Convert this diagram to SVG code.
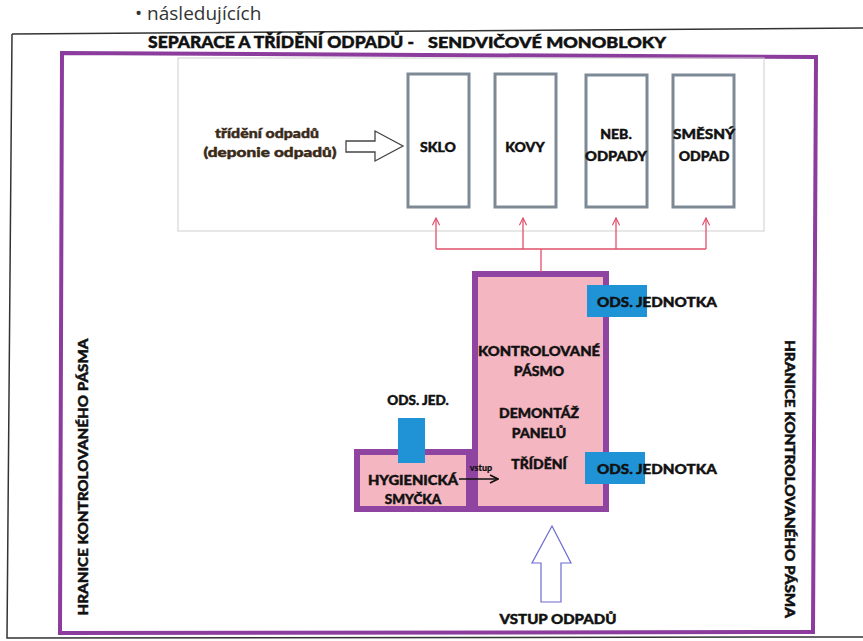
<svg xmlns="http://www.w3.org/2000/svg" width="863" height="641" viewBox="0 0 863 641">
<defs>
<style>
.t{font-family:Lato,"Open Sans","DejaVu Sans",sans-serif;font-weight:900;fill:#111;stroke:#111;stroke-width:0.45;}
.bin{fill:#fff;stroke:#7d8a96;stroke-width:3;}
.pink{fill:#f4b6c1;stroke:#8e44a0;stroke-width:6;}
.blue{fill:#1f93d6;}
.red{stroke:#e0506a;stroke-width:1.3;fill:none;}
</style>
<marker id="ra" viewBox="0 0 10 10" refX="9" refY="5" markerWidth="9" markerHeight="9" orient="auto" markerUnits="userSpaceOnUse">
<path d="M1,1 L9,5 L1,9" fill="none" stroke="#e0506a" stroke-width="1.3"/>
</marker>
<marker id="ba" viewBox="0 0 10 10" refX="9" refY="5" markerWidth="10" markerHeight="12" orient="auto" markerUnits="userSpaceOnUse">
<path d="M1,1 L9,5 L1,9" fill="none" stroke="#111" stroke-width="1.6"/>
</marker>
</defs>
<rect width="863" height="641" fill="#fff"/>
<text x="135" y="20" style="font-family:'Open Sans',sans-serif;font-size:19px;fill:#333">• následujících</text>
<g id="outer-frame">
<path d="M12,34 L863,28" stroke="#333" stroke-width="1.5" fill="none"/>
<path d="M12,34 L7,638 L863,637" stroke="#333" stroke-width="1.5" fill="none"/>
</g>
<g id="title">
<text class="t" x="148" y="48" font-size="17" textLength="266" lengthAdjust="spacingAndGlyphs">SEPARACE A TŘÍDĚNÍ ODPADŮ -</text>
<text class="t" x="428" y="48" font-size="14.5" textLength="238" lengthAdjust="spacingAndGlyphs">SENDVIČOVÉ  MONOBLOKY</text>
</g>
<g id="boundary">
<path d="M62,53 L816,57 L813,632 L60,633 Z" fill="none" stroke="#8b3c9c" stroke-width="4"/>
<text class="t" transform="translate(88,477) rotate(-90)" font-size="13.5" text-anchor="middle" textLength="277" lengthAdjust="spacingAndGlyphs">HRANICE KONTROLOVANÉHO  PÁSMA</text>
<text class="t" transform="translate(785,479) rotate(90)" font-size="13.5" text-anchor="middle" textLength="278" lengthAdjust="spacingAndGlyphs">HRANICE KONTROLOVANÉHO  PÁSMA</text>
</g>
<g id="sorting-area">
<rect x="178" y="58" width="586" height="173" fill="none" stroke="#cfcfcf" stroke-width="1"/>
<text class="t" x="267" y="138" font-size="13.5" text-anchor="middle" textLength="104" lengthAdjust="spacingAndGlyphs" style="fill:#3a2a18;stroke:#3a2a18">třídění odpadů</text>
<text class="t" x="270" y="157" font-size="13.5" text-anchor="middle" textLength="133" lengthAdjust="spacingAndGlyphs" style="fill:#3a2a18;stroke:#3a2a18">(deponie  odpadů)</text>
<path d="M346,141 L375,141 L375,131 L403,146 L375,161 L375,152 L346,152 Z" fill="#fff" stroke="#444" stroke-width="1.3"/>
</g>
<g id="bin-sklo">
<rect class="bin" x="408" y="74" width="61" height="133"/>
<text class="t" x="438" y="152" font-size="14" text-anchor="middle">SKLO</text>
</g>
<g id="bin-kovy">
<rect class="bin" x="495" y="74" width="61" height="133"/>
<text class="t" x="525" y="152" font-size="14" text-anchor="middle">KOVY</text>
</g>
<g id="bin-neb">
<rect class="bin" x="586" y="75" width="61" height="132"/>
<text class="t" x="616" y="139" font-size="14" text-anchor="middle">NEB.</text>
<text class="t" x="616" y="161" font-size="14" text-anchor="middle" textLength="62" lengthAdjust="spacingAndGlyphs">ODPADY</text>
</g>
<g id="bin-smesny">
<rect class="bin" x="673" y="75" width="61" height="132"/>
<text class="t" x="704" y="139" font-size="14" text-anchor="middle" textLength="62" lengthAdjust="spacingAndGlyphs">SMĚSNÝ</text>
<text class="t" x="704" y="161" font-size="14" text-anchor="middle">ODPAD</text>
</g>
<g id="controlled-zone">
<rect class="pink" x="475" y="274" width="131" height="235"/>
<text class="t" x="539" y="356" font-size="14" text-anchor="middle" textLength="122" lengthAdjust="spacingAndGlyphs">KONTROLOVANÉ</text>
<text class="t" x="539" y="376" font-size="14" text-anchor="middle">PÁSMO</text>
<text class="t" x="539" y="418" font-size="14" text-anchor="middle">DEMONTÁŽ</text>
<text class="t" x="539" y="438" font-size="14" text-anchor="middle">PANELŮ</text>
<text class="t" x="539" y="469" font-size="14" text-anchor="middle">TŘÍDĚNÍ</text>
</g>
<g id="ods-jednotka-1">
<rect class="blue" x="587" y="285" width="60" height="32"/>
<text class="t" x="597" y="307" font-size="14" textLength="120" lengthAdjust="spacingAndGlyphs">ODS. JEDNOTKA</text>
</g>
<g id="hygienic-loop">
<rect class="pink" x="357" y="452" width="112" height="57"/>
<text class="t" x="413" y="485" font-size="13.5" text-anchor="middle" textLength="90" lengthAdjust="spacingAndGlyphs">HYGIENICKÁ</text>
<text class="t" x="413" y="504" font-size="13.5" text-anchor="middle">SMYČKA</text>
<text class="t" x="481" y="471" font-size="9" text-anchor="middle" style="stroke-width:0.2">vstup</text>
</g>
<g id="ods-jed">
<rect class="blue" x="398" y="418" width="27" height="45"/>
<text class="t" x="418" y="405" font-size="13.5" text-anchor="middle">ODS. JED.</text>
</g>
<g id="ods-jednotka-2">
<rect class="blue" x="585" y="452" width="60" height="32"/>
<text class="t" x="597" y="474" font-size="14" textLength="120" lengthAdjust="spacingAndGlyphs">ODS. JEDNOTKA</text>
</g>
<g id="vstup-odpadu">
<text class="t" x="558" y="624" font-size="14" text-anchor="middle" textLength="117" lengthAdjust="spacingAndGlyphs">VSTUP ODPADŮ</text>
</g>
<g id="connectors">
<path class="red" d="M541,272 L541,249"/>
<path class="red" d="M436,249 L706,249"/>
<path class="red" d="M436,249 L436,218" marker-end="url(#ra)"/>
<path class="red" d="M523,249 L523,218" marker-end="url(#ra)"/>
<path class="red" d="M616,249 L616,218" marker-end="url(#ra)"/>
<path class="red" d="M706,249 L706,218" marker-end="url(#ra)"/>
<path d="M459,479 L498,479" stroke="#111" stroke-width="1.6" fill="none" marker-end="url(#ba)"/>
<path d="M552,526 L571,563 L561,563 L561,602 L541,602 L541,563 L532,563 Z" fill="#fff" stroke="#6b6bd0" stroke-width="1.2"/>
</g>
</svg>
